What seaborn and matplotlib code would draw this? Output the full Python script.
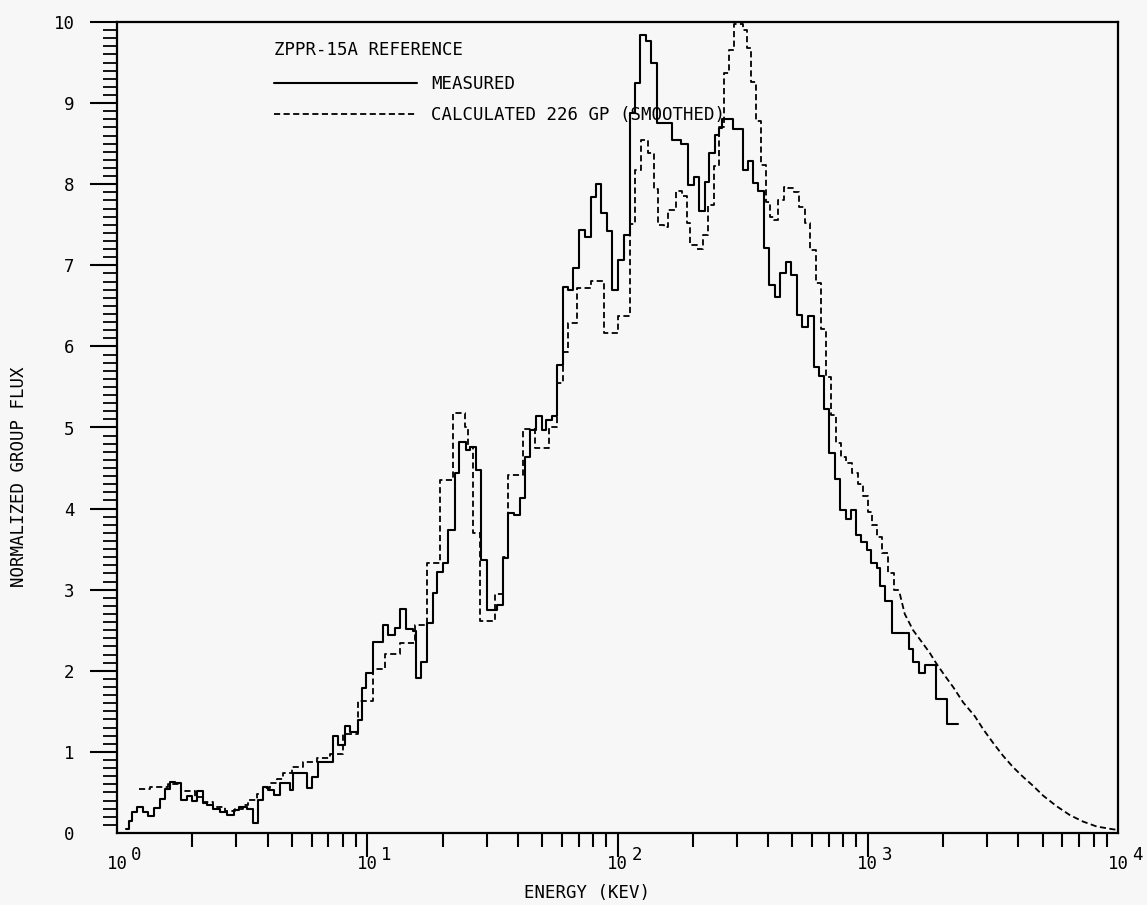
import matplotlib
matplotlib.use("Agg")
import matplotlib.pyplot as plt
import numpy as np
import pandas as pd
import seaborn as sns
from matplotlib.ticker import FixedLocator, LogLocator, NullFormatter, MultipleLocator, FuncFormatter

# ZPPR-15A reference core: measured vs. calculated neutron group flux

# Measured spectrum: group boundaries (keV) and normalized flux per group
measured_edges_kev = [
    1.086, 1.117, 1.148, 1.202, 1.271, 1.330, 1.406, 1.486, 1.556, 1.629,
    1.706, 1.803, 1.905, 1.995, 2.089, 2.208, 2.291, 2.421, 2.582, 2.754,
    2.938, 3.076, 3.311, 3.499, 3.664, 3.837, 4.018, 4.246, 4.487, 4.920,
    5.058, 5.754, 6.026, 6.368, 7.311, 7.656, 8.166, 8.551, 9.204, 9.550,
    9.908, 10.57, 11.59, 12.13, 12.94, 13.55, 14.32, 15.28, 15.70, 16.44,
    17.38, 18.37, 19.05, 20.14, 21.09, 22.49, 23.33, 24.89, 25.82, 27.29,
    28.58, 30.20, 33.11, 34.99, 36.64, 38.73, 40.93, 42.85, 44.87, 47.42,
    50.12, 52.00, 54.95, 57.54, 60.81, 63.68, 66.68, 70.47, 74.47, 78.70,
    82.41, 86.30, 91.20, 95.50, 100.9, 105.7, 111.7, 117.0, 122.5, 129.4,
    135.5, 143.2, 164.4, 178.6, 190.5, 201.4, 210.9, 222.8, 231.2, 244.3,
    253.5, 260.6, 288.4, 316.2, 331.1, 346.7, 363.1, 383.7, 401.8, 424.6,
    444.6, 469.9, 492.0, 520.0, 544.5, 575.4, 608.1, 636.8, 666.8, 698.2,
    737.9, 772.7, 816.6, 855.1, 895.4, 937.6, 990.8, 1028, 1086, 1117,
    1169, 1247, 1459, 1514, 1600, 1690, 1871, 2070, 2291,
]
measured_flux = [
    0.05, 0.15, 0.26, 0.32, 0.26, 0.21, 0.31, 0.42, 0.54, 0.63,
    0.62, 0.41, 0.46, 0.40, 0.52, 0.37, 0.34, 0.30, 0.26, 0.22,
    0.28, 0.32, 0.30, 0.12, 0.41, 0.57, 0.53, 0.47, 0.62, 0.53,
    0.74, 0.55, 0.69, 0.88, 1.20, 1.09, 1.32, 1.25, 1.39, 1.79,
    1.97, 2.36, 2.56, 2.44, 2.53, 2.76, 2.51, 2.49, 1.91, 2.11,
    2.59, 2.96, 3.22, 3.33, 3.74, 4.44, 4.82, 4.72, 4.76, 4.48,
    3.37, 2.75, 2.81, 3.39, 3.95, 3.92, 4.13, 4.64, 4.97, 5.14,
    4.97, 5.09, 5.14, 5.77, 6.73, 6.70, 6.97, 7.44, 7.35, 7.84,
    8.00, 7.65, 7.42, 6.70, 7.07, 7.37, 8.88, 9.25, 9.84, 9.76,
    9.50, 8.75, 8.55, 8.50, 7.99, 8.09, 7.67, 8.03, 8.39, 8.61,
    8.69, 8.81, 8.68, 8.17, 8.29, 8.01, 7.92, 7.21, 6.76, 6.61,
    6.90, 7.04, 6.88, 6.39, 6.24, 6.37, 5.75, 5.63, 5.23, 4.68,
    4.37, 3.98, 3.87, 3.98, 3.67, 3.59, 3.49, 3.33, 3.27, 3.05,
    2.86, 2.47, 2.27, 2.11, 1.97, 2.07, 1.65, 1.35,
]

# Calculated 226-group spectrum (smoothed): stepped part
calc_edges_kev = [
    1.225, 1.355, 1.600, 1.803, 2.051, 2.208, 2.421, 2.704, 2.965, 3.192,
    3.342, 3.631, 3.837, 4.093, 4.365, 4.613, 5.012, 5.546, 6.310, 7.112,
    8.017, 9.204, 10.57, 11.80, 13.55, 15.56, 17.38, 19.59, 22.08, 24.66,
    25.35, 26.55, 28.31, 32.51, 34.99, 36.64, 42.07, 46.99, 53.46, 57.54,
    60.81, 63.68, 69.18, 78.70, 88.72, 100.0, 112.7, 118.0, 123.6, 131.8,
    139.3, 144.5, 152.8, 158.5, 170.6, 180.3, 188.8, 194.1, 207.0, 218.8,
    229.1, 242.1, 253.5, 265.5, 278.0, 291.1, 316.2, 328.1, 340.4, 356.5,
    373.3, 390.8, 405.5, 420.7, 436.5, 461.3, 478.6, 505.8, 529.7, 559.8,
    586.1, 619.4, 648.6, 679.2, 711.2, 744.7, 779.8, 816.6, 863.0, 912.0,
    955.0, 1000, 1038, 1086, 1138, 1202, 1271, 1343,
]
calc_flux = [
    0.54, 0.57, 0.60, 0.52, 0.45, 0.38, 0.32, 0.27, 0.30, 0.34,
    0.41, 0.48, 0.55, 0.62, 0.67, 0.74, 0.81, 0.88, 0.92, 0.97,
    1.22, 1.63, 2.02, 2.21, 2.34, 2.56, 3.33, 4.35, 5.18, 5.00,
    4.76, 3.70, 2.61, 2.95, 3.40, 4.41, 4.98, 4.75, 5.00, 5.55,
    5.93, 6.29, 6.72, 6.81, 6.16, 6.37, 7.51, 8.18, 8.54, 8.38,
    7.94, 7.50, 7.47, 7.68, 7.92, 7.85, 7.52, 7.25, 7.20, 7.37,
    7.74, 8.23, 8.70, 9.37, 9.65, 9.98, 9.90, 9.68, 9.26, 8.78,
    8.24, 7.78, 7.60, 7.56, 7.80, 7.97, 7.95, 7.90, 7.72, 7.52,
    7.19, 6.78, 6.21, 5.62, 5.15, 4.81, 4.64, 4.56, 4.44, 4.30,
    4.15, 3.96, 3.80, 3.65, 3.45, 3.20, 3.00,
]

# Calculated spectrum above 1.3 MeV, where the fine groups form a smooth tail
calc_tail_kev = [
    1343, 1406, 1518, 1640, 1770, 1871, 2032, 2194, 2406, 2679,
    2892, 3171, 3477, 3813, 4181, 4584, 5026, 5686, 6427, 7264,
    8219, 9576, 10000,
]
calc_tail_flux = [
    2.95, 2.70, 2.50, 2.36, 2.22, 2.10, 1.94, 1.80, 1.61, 1.44,
    1.28, 1.11, 0.95, 0.81, 0.69, 0.58, 0.46, 0.33, 0.22, 0.14,
    0.08, 0.045, 0.04,
]

y_ticks = list(range(0, 11))
x_decade_exponents = [0, 1, 2, 3, 4]

series_labels = ["MEASURED", "CALCULATED 226 GP (SMOOTHED)"]
legend_title = "ZPPR-15A REFERENCE"
x_label = "ENERGY (KEV)"
y_label = "NORMALIZED GROUP FLUX"


def step_frame(edges, values):
    """Histogram as step vertices: each group value held to its upper edge."""
    return pd.DataFrame({"energy": edges, "flux": list(values) + [values[-1]]})


BG = "#f7f7f7"
sns.set_style("ticks")
plt.rcParams["font.family"] = ["DejaVu Sans Mono", "DejaVu Sans"]
plt.rcParams["axes.linewidth"] = 1.6
for key in ("text.color", "axes.labelcolor", "xtick.color", "ytick.color",
            "axes.edgecolor"):
    plt.rcParams[key] = "black"

fig = plt.figure(figsize=(11.47, 9.05), dpi=100, facecolor=BG)
ax = fig.add_axes([117 / 1147, 72 / 905, 1001 / 1147, 811 / 905], facecolor=BG)

dash = (0, (3.4, 1.9))

sns.lineplot(data=step_frame(measured_edges_kev, measured_flux), x="energy", y="flux",
             ax=ax, color="black", linewidth=1.5, drawstyle="steps-post",
             estimator=None, sort=False, label=series_labels[0])
sns.lineplot(data=step_frame(calc_edges_kev, calc_flux), x="energy", y="flux",
             ax=ax, color="black", linewidth=1.3, linestyle=dash, drawstyle="steps-post",
             estimator=None, sort=False, label=series_labels[1])
sns.lineplot(data=pd.DataFrame({"energy": calc_tail_kev, "flux": calc_tail_flux}),
             x="energy", y="flux", ax=ax, color="black", linewidth=1.3, linestyle=dash,
             estimator=None, sort=False, legend=False)

ax.set_xscale("log")
ax.set_xlim(1, 1e4)
ax.set_ylim(0, 10)

# x axis: decade ticks with "10" and a raised exponent, minor ticks 2..9
ax.xaxis.set_major_locator(FixedLocator([10.0 ** k for k in x_decade_exponents]))
ax.xaxis.set_minor_locator(LogLocator(base=10, subs=range(2, 10), numticks=20))
ax.xaxis.set_major_formatter(NullFormatter())
ax.xaxis.set_minor_formatter(NullFormatter())
ax.tick_params(axis="x", which="major", direction="out", length=17, width=1.5,
               bottom=True, top=False)
ax.tick_params(axis="x", which="minor", direction="out", length=10, width=1.5,
               bottom=True, top=False)
xt = ax.xaxis.get_major_ticks()
xt[0].tick1line.set_visible(False)
xt[-1].tick1line.set_visible(False)

for k in x_decade_exponents:
    ax.annotate("10", xy=(10.0 ** k, 0), xycoords=("data", "axes fraction"),
                xytext=(0, -22), textcoords="offset pixels", ha="center", va="top",
                fontsize=12.5, color="black")
    ax.annotate(str(k), xy=(10.0 ** k, 0), xycoords=("data", "axes fraction"),
                xytext=(14, -13), textcoords="offset pixels", ha="left", va="top",
                fontsize=12.5, color="black")

# y axis: integer labels, ticks every 0.1
ax.yaxis.set_major_locator(FixedLocator(y_ticks))
ax.yaxis.set_minor_locator(MultipleLocator(0.1))
ax.yaxis.set_major_formatter(FuncFormatter(lambda v, p: f"{int(round(v))}"))
ax.tick_params(axis="y", which="major", direction="out", length=19.5, width=1.5,
               pad=11, labelsize=12.5, labelcolor="black", left=True, right=False)
ax.tick_params(axis="y", which="minor", direction="out", length=10, width=1.3,
               left=True, right=False)
ax.yaxis.get_major_ticks()[0].tick1line.set_visible(False)

for s in ax.spines.values():
    s.set_visible(True)
    s.set_color("black")
    s.set_linewidth(1.6)

ax.set_xlabel(x_label, fontsize=12.5, color="black")
ax.xaxis.set_label_coords(0.4695, -0.063)
ax.set_ylabel(y_label, fontsize=12.5, color="black")
ax.yaxis.set_label_coords(-0.089, 0.439)

leg = ax.legend(loc="upper left", bbox_to_anchor=(0.157, 0.977), frameon=False,
                title=legend_title, alignment="left", fontsize=12.5,
                title_fontsize=12.5, handlelength=8.2, handletextpad=0.85,
                labelspacing=0.72, borderpad=0, borderaxespad=0, labelcolor="black")
leg.get_title().set_color("black")
leg._legend_box.sep = 12

fig.savefig("out.png", dpi=100, facecolor=BG)
